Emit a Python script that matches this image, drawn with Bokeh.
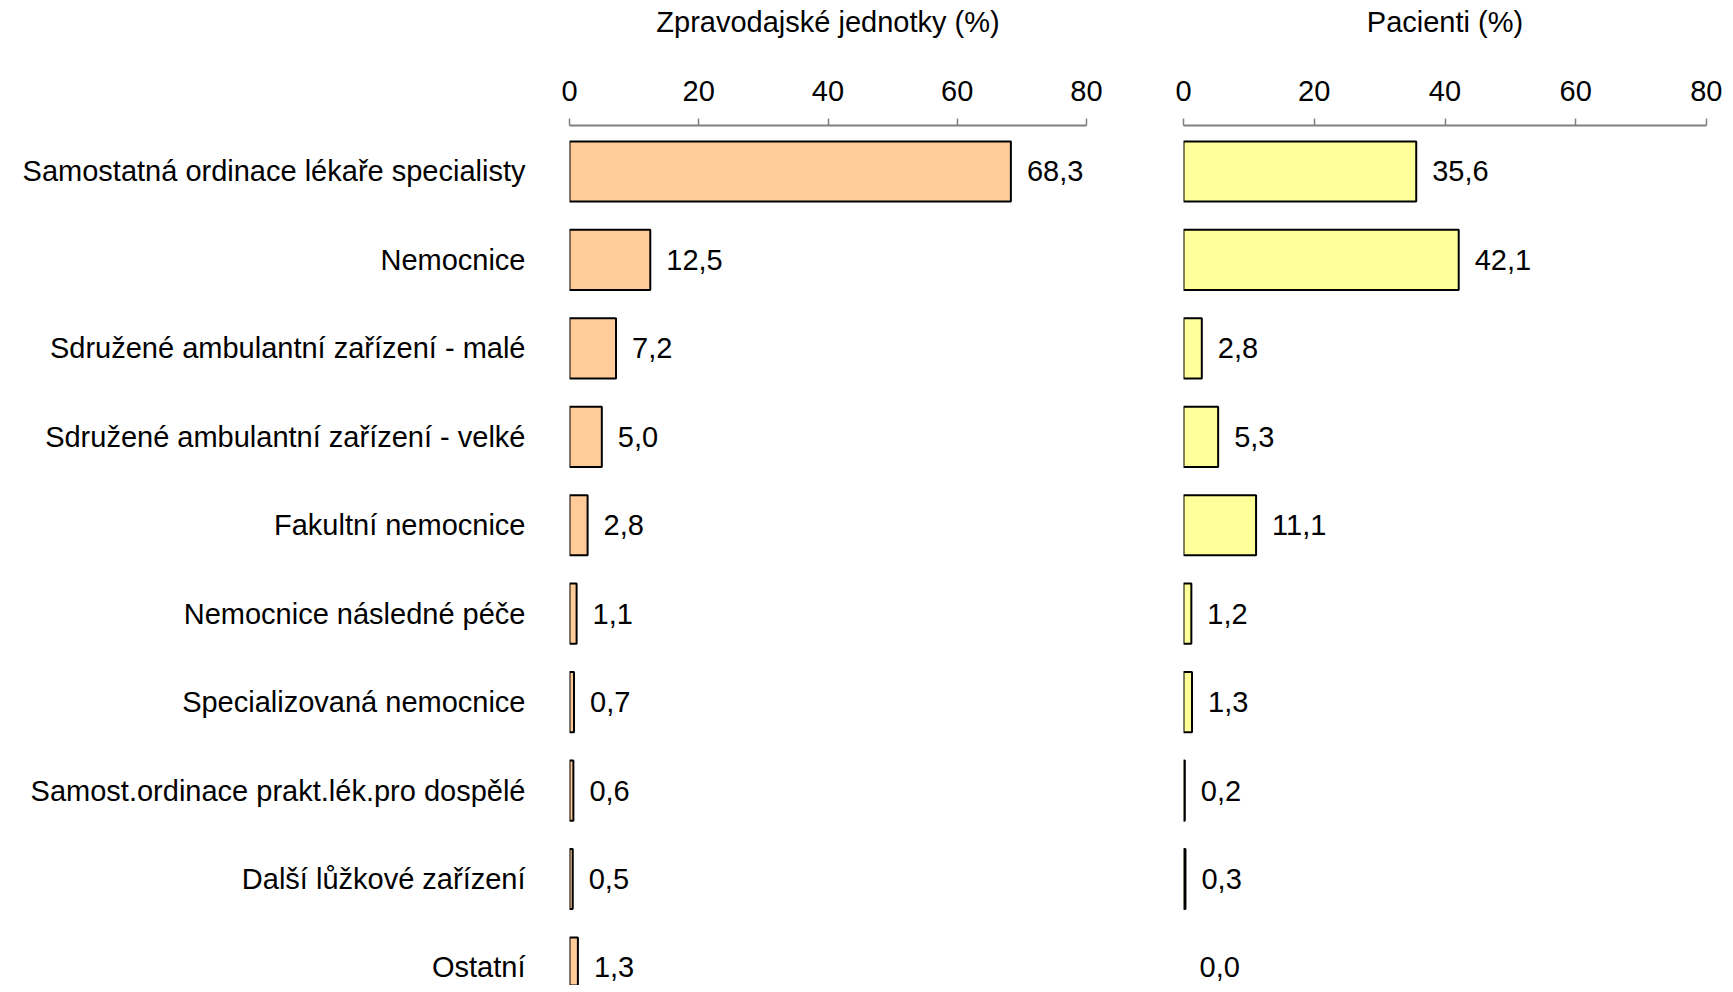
from bokeh.plotting import figure
from bokeh.models import ColumnDataSource, Range1d, FixedTicker
from bokeh.layouts import row
from bokeh.embed import file_html
from bokeh.resources import INLINE
from bokeh.core.properties import value

categories = [
    "Samostatná ordinace lékaře specialisty",
    "Nemocnice",
    "Sdružené ambulantní zařízení - malé",
    "Sdružené ambulantní zařízení - velké",
    "Fakultní nemocnice",
    "Nemocnice následné péče",
    "Specializovaná nemocnice",
    "Samost.ordinace prakt.lék.pro dospělé",
    "Další lůžkové zařízení",
    "Ostatní",
]
units_pct = [68.3, 12.5, 7.2, 5.0, 2.8, 1.1, 0.7, 0.6, 0.5, 1.3]
patients_pct = [35.6, 42.1, 2.8, 5.3, 11.1, 1.2, 1.3, 0.2, 0.3, 0.0]
x_ticks = [0, 20, 40, 60, 80]
titles = ["Zpravodajské jednotky (%)", "Pacienti (%)"]
colors = ["#FFCC99", "#FFFF99"]

FONT = "Liberation Sans"
FS = "29px"


def make_panel(vals, title, color, show_labels, border_left, border_right, frame_w):
    idx = list(range(len(vals)))
    src = ColumnDataSource(dict(
        y=idx, v=vals,
        lbl=[f"{x:.1f}".replace(".", ",") for x in vals],
        la=[1.0 if x > 0 else 0.0 for x in vals],
    ))
    p = figure(
        output_backend="svg", toolbar_location=None,
        frame_width=frame_w, frame_height=860,
        x_range=Range1d(0, 80), y_range=Range1d(9.204, -0.52),
        x_axis_location="above",
        min_border_left=border_left, min_border_right=border_right,
        min_border_top=125, min_border_bottom=0,
    )
    p.outline_line_color = None
    p.grid.visible = False
    p.background_fill_color = "white"
    p.border_fill_color = "white"

    p.hbar(y="y", left=0, right="v", height=0.68, source=src,
           fill_color=color, line_color="black", line_width=2, line_alpha="la")
    p.text(x="v", y="y", text="lbl", source=src, x_offset=16,
           text_baseline="middle", text_align="left",
           text_font=value(FONT), text_font_size=FS, text_color="black")

    xa = p.xaxis[0]
    xa.ticker = FixedTicker(ticks=x_ticks)
    xa.axis_label = title
    xa.axis_label_text_font = FONT
    xa.axis_label_text_font_size = FS
    xa.axis_label_text_font_style = "normal"
    xa.axis_label_text_color = "black"
    xa.axis_label_standoff = 40
    xa.major_label_text_font = FONT
    xa.major_label_text_font_size = FS
    xa.major_label_text_color = "black"
    xa.major_label_standoff = 18
    xa.axis_line_color = "#808080"
    xa.axis_line_width = 2
    xa.major_tick_line_color = "#808080"
    xa.major_tick_line_width = 1.5
    xa.major_tick_out = 7
    xa.major_tick_in = 0
    xa.minor_tick_line_color = None

    ya = p.yaxis[0]
    if show_labels:
        ya.ticker = FixedTicker(ticks=idx)
        ya.major_label_overrides = {i: c for i, c in zip(idx, categories)}
        ya.major_label_text_font = FONT
        ya.major_label_text_font_size = FS
        ya.major_label_text_color = "black"
        ya.major_label_standoff = 44
        ya.axis_line_color = None
        ya.major_tick_line_color = None
        ya.minor_tick_line_color = None
        ya.major_tick_out = 0
        ya.major_tick_in = 0
    else:
        ya.visible = False
    return p


p1 = make_panel(units_pct, titles[0], colors[0], True, 569, 40, 517)
p2 = make_panel(patients_pct, titles[1], colors[1], False, 57, 16, 523)

layout = row(p1, p2)
open("out.html", "w").write(file_html(layout, INLINE))
